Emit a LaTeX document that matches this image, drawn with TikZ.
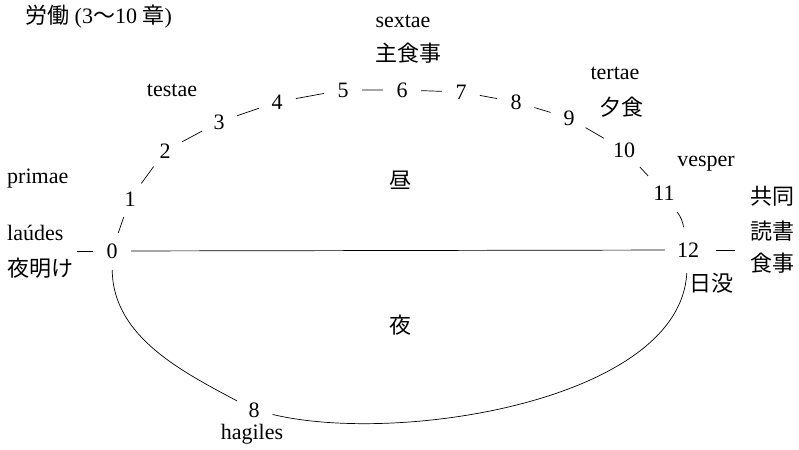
\documentclass[tikz,border=0pt]{standalone}
\usepackage{fontspec}
\setmainfont{Liberation Serif}
\newfontfamily\cjk{Noto Sans CJK JP}
\begin{document}
\begin{tikzpicture}[x=1pt,y=1pt,
  every node/.style={font=\fontsize{22}{26}\selectfont},
  num/.style={circle, minimum size=38pt, inner sep=0pt},
  numw/.style={circle, minimum size=46pt, inner sep=0pt},
  lbl/.style={inner sep=0pt},
  jp/.style={inner sep=0pt, font=\fontsize{22}{26}\selectfont\cjk},
  conn/.style={line width=0.7pt}]
\useasboundingbox (0,0) rectangle (799,-449);
% numbers on the day arc
\node[num]  (n0)  at (112,-251) {0};
\node[num]  (n1)  at (130,-199) {1};
\node[num]  (n2)  at (165,-151) {2};
\node[num]  (n3)  at (219,-122) {3};
\node[num]  (n4)  at (277,-102) {4};
\node[num]  (n5)  at (343,-90)  {5};
\node[num]  (n6)  at (402,-90)  {6};
\node[num]  (n7)  at (461,-92)  {7};
\node[num]  (n8)  at (516,-102) {8};
\node[num]  (n9)  at (569,-118) {9};
\node[numw] (n10) at (624,-150) {10};
\node[numw] (n11) at (664,-193) {11};
\node[numw] (n12) at (688,-250) {12};
\node[num]  (b8)  at (254,-410) {8};
\coordinate (lend) at (77,-251);
\coordinate (rend) at (735,-250);
% connectors
\draw[conn] (n0)--(n1) (n1)--(n2) (n2)--(n3) (n3)--(n4) (n4)--(n5)
  (n5)--(n6) (n6)--(n7) (n7)--(n8) (n8)--(n9) (n9)--(n10) (n10)--(n11);
\draw[conn] (n11) to[bend left=12] (n12);
\draw[conn] (n0) -- (n12);
\draw[conn] (lend) -- (n0);
\draw[conn, shorten <=5pt] (n12) -- (rend);
\draw[conn] (n0) .. controls (113,-337) and (183,-372) .. (b8);
\draw[conn] (b8) .. controls (400,-445) and (680,-400) .. (n12);
% labels
\node[lbl, anchor=base west] (title) at (25,-24) {{\cjk 労働} (3{\cjk 〜}10 {\cjk 章})};
\node[lbl, anchor=base] (testae) at (172,-97) {testae};
\node[lbl, anchor=base] (sextae) at (403,-28) {sextae};
\node[jp] (shushoku) at (408,-53) {主食事};
\node[lbl, anchor=base] (tertae) at (615,-80) {tertae};
\node[jp] (yushoku) at (621,-107) {夕食};
\node[lbl, anchor=base] (vesper) at (706,-166) {vesper};
\node[lbl, anchor=base west] (primae) at (7,-183) {primae};
\node[lbl, anchor=base west] (laudes) at (7,-240) {laúdes};
\node[jp, anchor=west] (yoake) at (7,-268) {夜明け};
\node[jp] (kyodo) at (772,-196) {共同};
\node[jp] (dokusho) at (772,-231) {読書};
\node[jp] (shokuji) at (772,-263) {食事};
\node[jp] (nichibotsu) at (711,-283) {日没};
\node[jp] (hiru) at (400,-180) {昼};
\node[jp] (yoru) at (400,-325) {夜};
\node[lbl, anchor=base] (hagiles) at (252,-439) {hagiles};
\end{tikzpicture}
\end{document}
